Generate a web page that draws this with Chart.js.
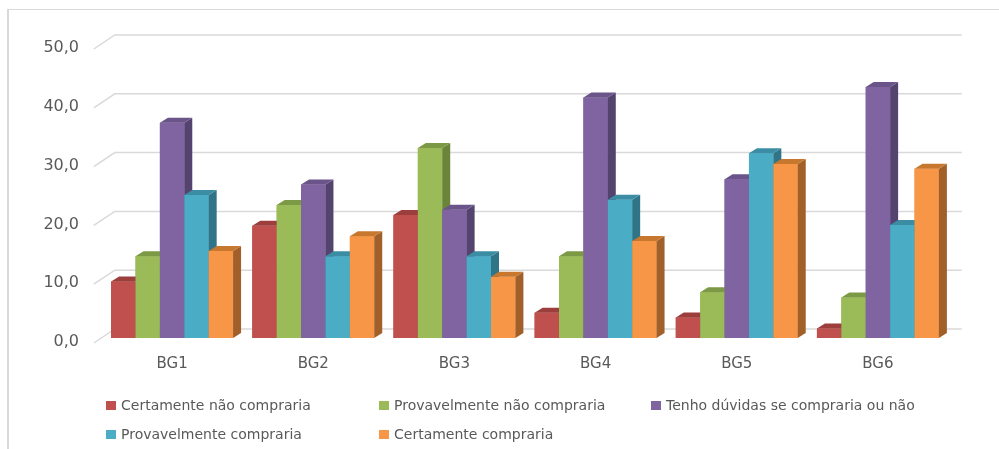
<!DOCTYPE html>
<html>
<head>
<meta charset="utf-8">
<script src="https://cdn.jsdelivr.net/npm/chart.js@4.4.1/dist/chart.umd.min.js"></script>
<style>
  html, body { margin: 0; padding: 0; background: #fff; }
  #wrap { position: relative; width: 999px; height: 449px; overflow: hidden; }
  #frame { position: absolute; left: 7px; top: 9px; width: 1100px; height: 600px;
           border-left: 2px solid #d9d9d9; border-top: 1px solid #d9d9d9; }
  #c { position: absolute; left: 0; top: 0; }
  .lg-text { position: absolute; font: 14px "DejaVu Sans", sans-serif; color: #595959;
             white-space: nowrap; line-height: 16px; }
  .lg-box { position: absolute; width: 10px; height: 9px; }
</style>
</head>
<body>
<div id="wrap">
  <div id="frame"></div>
  <canvas id="c" width="999" height="449"></canvas>
  <div id="legend"></div>
</div>
<script>
// Categories and answer shares (%) per product
const categories = ['BG1', 'BG2', 'BG3', 'BG4', 'BG5', 'BG6'];
const seriesNames = [
  'Certamente não compraria',
  'Provavelmente não compraria',
  'Tenho dúvidas se compraria ou não',
  'Provavelmente compraria',
  'Certamente compraria'
];
const certamenteNao    = [9.6, 19.1, 20.9, 4.3, 3.5, 1.6];
const provavelmenteNao = [13.9, 22.6, 32.3, 13.9, 7.8, 6.9];
const tenhoDuvidas     = [36.6, 26.1, 21.8, 40.9, 27.0, 42.7];
const provavelmente    = [24.3, 13.9, 13.9, 23.5, 31.4, 19.2];
const certamente       = [14.8, 17.3, 10.4, 16.5, 29.6, 28.8];
const yTicks = [0, 10, 20, 30, 40, 50];

const seriesValues = [certamenteNao, provavelmenteNao, tenhoDuvidas, provavelmente, certamente];
const frontColors = ['#C0504D', '#9BBB59', '#8064A2', '#4BACC6', '#F79646'];
const topColors   = ['#9C3E3C', '#7C9A46', '#6A5489', '#3B8DA3', '#C8772F'];
const sideColors  = ['#8A3735', '#6A853A', '#54426F', '#2F7487', '#A1602A'];

// oblique depth of the pseudo-3D look
const BAR_DX = 8, BAR_DY = 5;       // bar depth
const WALL_DX = 13.3, WALL_DY = 9;  // back wall, relative to bar fronts
const FLOOR_DX = 7.7, FLOOR_DY = 5; // front edge of the floor

const depthPlugin = {
  id: 'depth3d',
  // back-wall gridlines with the diagonal floor ticks on the left
  beforeDatasetsDraw(chart) {
    const { ctx, chartArea: a, scales: { y } } = chart;
    ctx.save();
    ctx.strokeStyle = '#d9d9d9';
    ctx.lineWidth = 1.5;
    y.ticks.forEach(t => {
      const py = y.getPixelForValue(t.value);
      ctx.beginPath();
      ctx.moveTo(a.left - FLOOR_DX, py + FLOOR_DY);
      ctx.lineTo(a.left + WALL_DX, py - WALL_DY);
      ctx.lineTo(a.right + WALL_DX, py - WALL_DY);
      ctx.stroke();
    });
    ctx.restore();
  },
  // paint bars left to right inside each group: front face, then side and top,
  // so that each next bar's front covers the previous side face
  afterDatasetsDraw(chart) {
    const { ctx } = chart;
    ctx.save();
    chart.data.datasets.forEach((ds, i) => {
      const meta = chart.getDatasetMeta(i);
      meta.data.forEach(bar => {
        bar.draw(ctx, chart.chartArea);
        const { x, y, base, width } = bar.getProps(['x', 'y', 'base', 'width'], true);
        const l = x - width / 2, r = x + width / 2;
        ctx.fillStyle = sideColors[i];
        ctx.beginPath();
        ctx.moveTo(r, y);
        ctx.lineTo(r + BAR_DX, y - BAR_DY);
        ctx.lineTo(r + BAR_DX, base - BAR_DY);
        ctx.lineTo(r, base);
        ctx.closePath();
        ctx.fill();
        ctx.fillStyle = topColors[i];
        ctx.beginPath();
        ctx.moveTo(l, y);
        ctx.lineTo(r, y);
        ctx.lineTo(r + BAR_DX, y - BAR_DY);
        ctx.lineTo(l + BAR_DX, y - BAR_DY);
        ctx.closePath();
        ctx.fill();
      });
    });
    ctx.restore();
  }
};

const datasets = seriesNames.map((name, i) => ({
  label: name,
  data: seriesValues[i],
  backgroundColor: frontColors[i],
  borderWidth: 0,
  barPercentage: 1,
  categoryPercentage: 0.864
}));

new Chart(document.getElementById('c'), {
  type: 'bar',
  data: { labels: categories, datasets },
  options: {
    responsive: false,
    devicePixelRatio: 1,
    animation: false,
    events: [],
    layout: { padding: { left: 0, top: 44, right: 50.5, bottom: 71 } },
    plugins: { legend: { display: false }, tooltip: { enabled: false } },
    scales: {
      x: {
        grid: { display: false },
        border: { display: false },
        ticks: { color: '#595959', font: { family: 'DejaVu Sans', size: 15 }, padding: 9 },
        afterFit(scale) { scale.height = 40; }
      },
      y: {
        min: 0, max: 50,
        grid: { display: false },
        border: { display: false },
        afterBuildTicks(scale) { scale.ticks = yTicks.map(v => ({ value: v })); },
        afterFit(scale) { scale.width = 101.5; },
        ticks: {
          color: '#595959',
          font: { family: 'DejaVu Sans', size: 16 },
          padding: 14.5,
          labelOffset: 4,
          callback: v => v.toFixed(1).replace('.', ',')
        }
      }
    }
  },
  plugins: [depthPlugin]
});

// legend laid out in a three-column grid
const legendCols = [106, 379, 651];
const legendRows = [405, 434];
const legendEl = document.getElementById('legend');
seriesNames.forEach((name, i) => {
  const cx = legendCols[i % 3], cy = legendRows[Math.floor(i / 3)];
  const box = document.createElement('div');
  box.className = 'lg-box';
  box.style.left = cx + 'px';
  box.style.top = (cy - 4.5) + 'px';
  box.style.background = frontColors[i];
  const txt = document.createElement('div');
  txt.className = 'lg-text';
  txt.style.left = (cx + 15) + 'px';
  txt.style.top = (cy - 8) + 'px';
  txt.textContent = name;
  legendEl.appendChild(box);
  legendEl.appendChild(txt);
});
</script>
</body>
</html>
